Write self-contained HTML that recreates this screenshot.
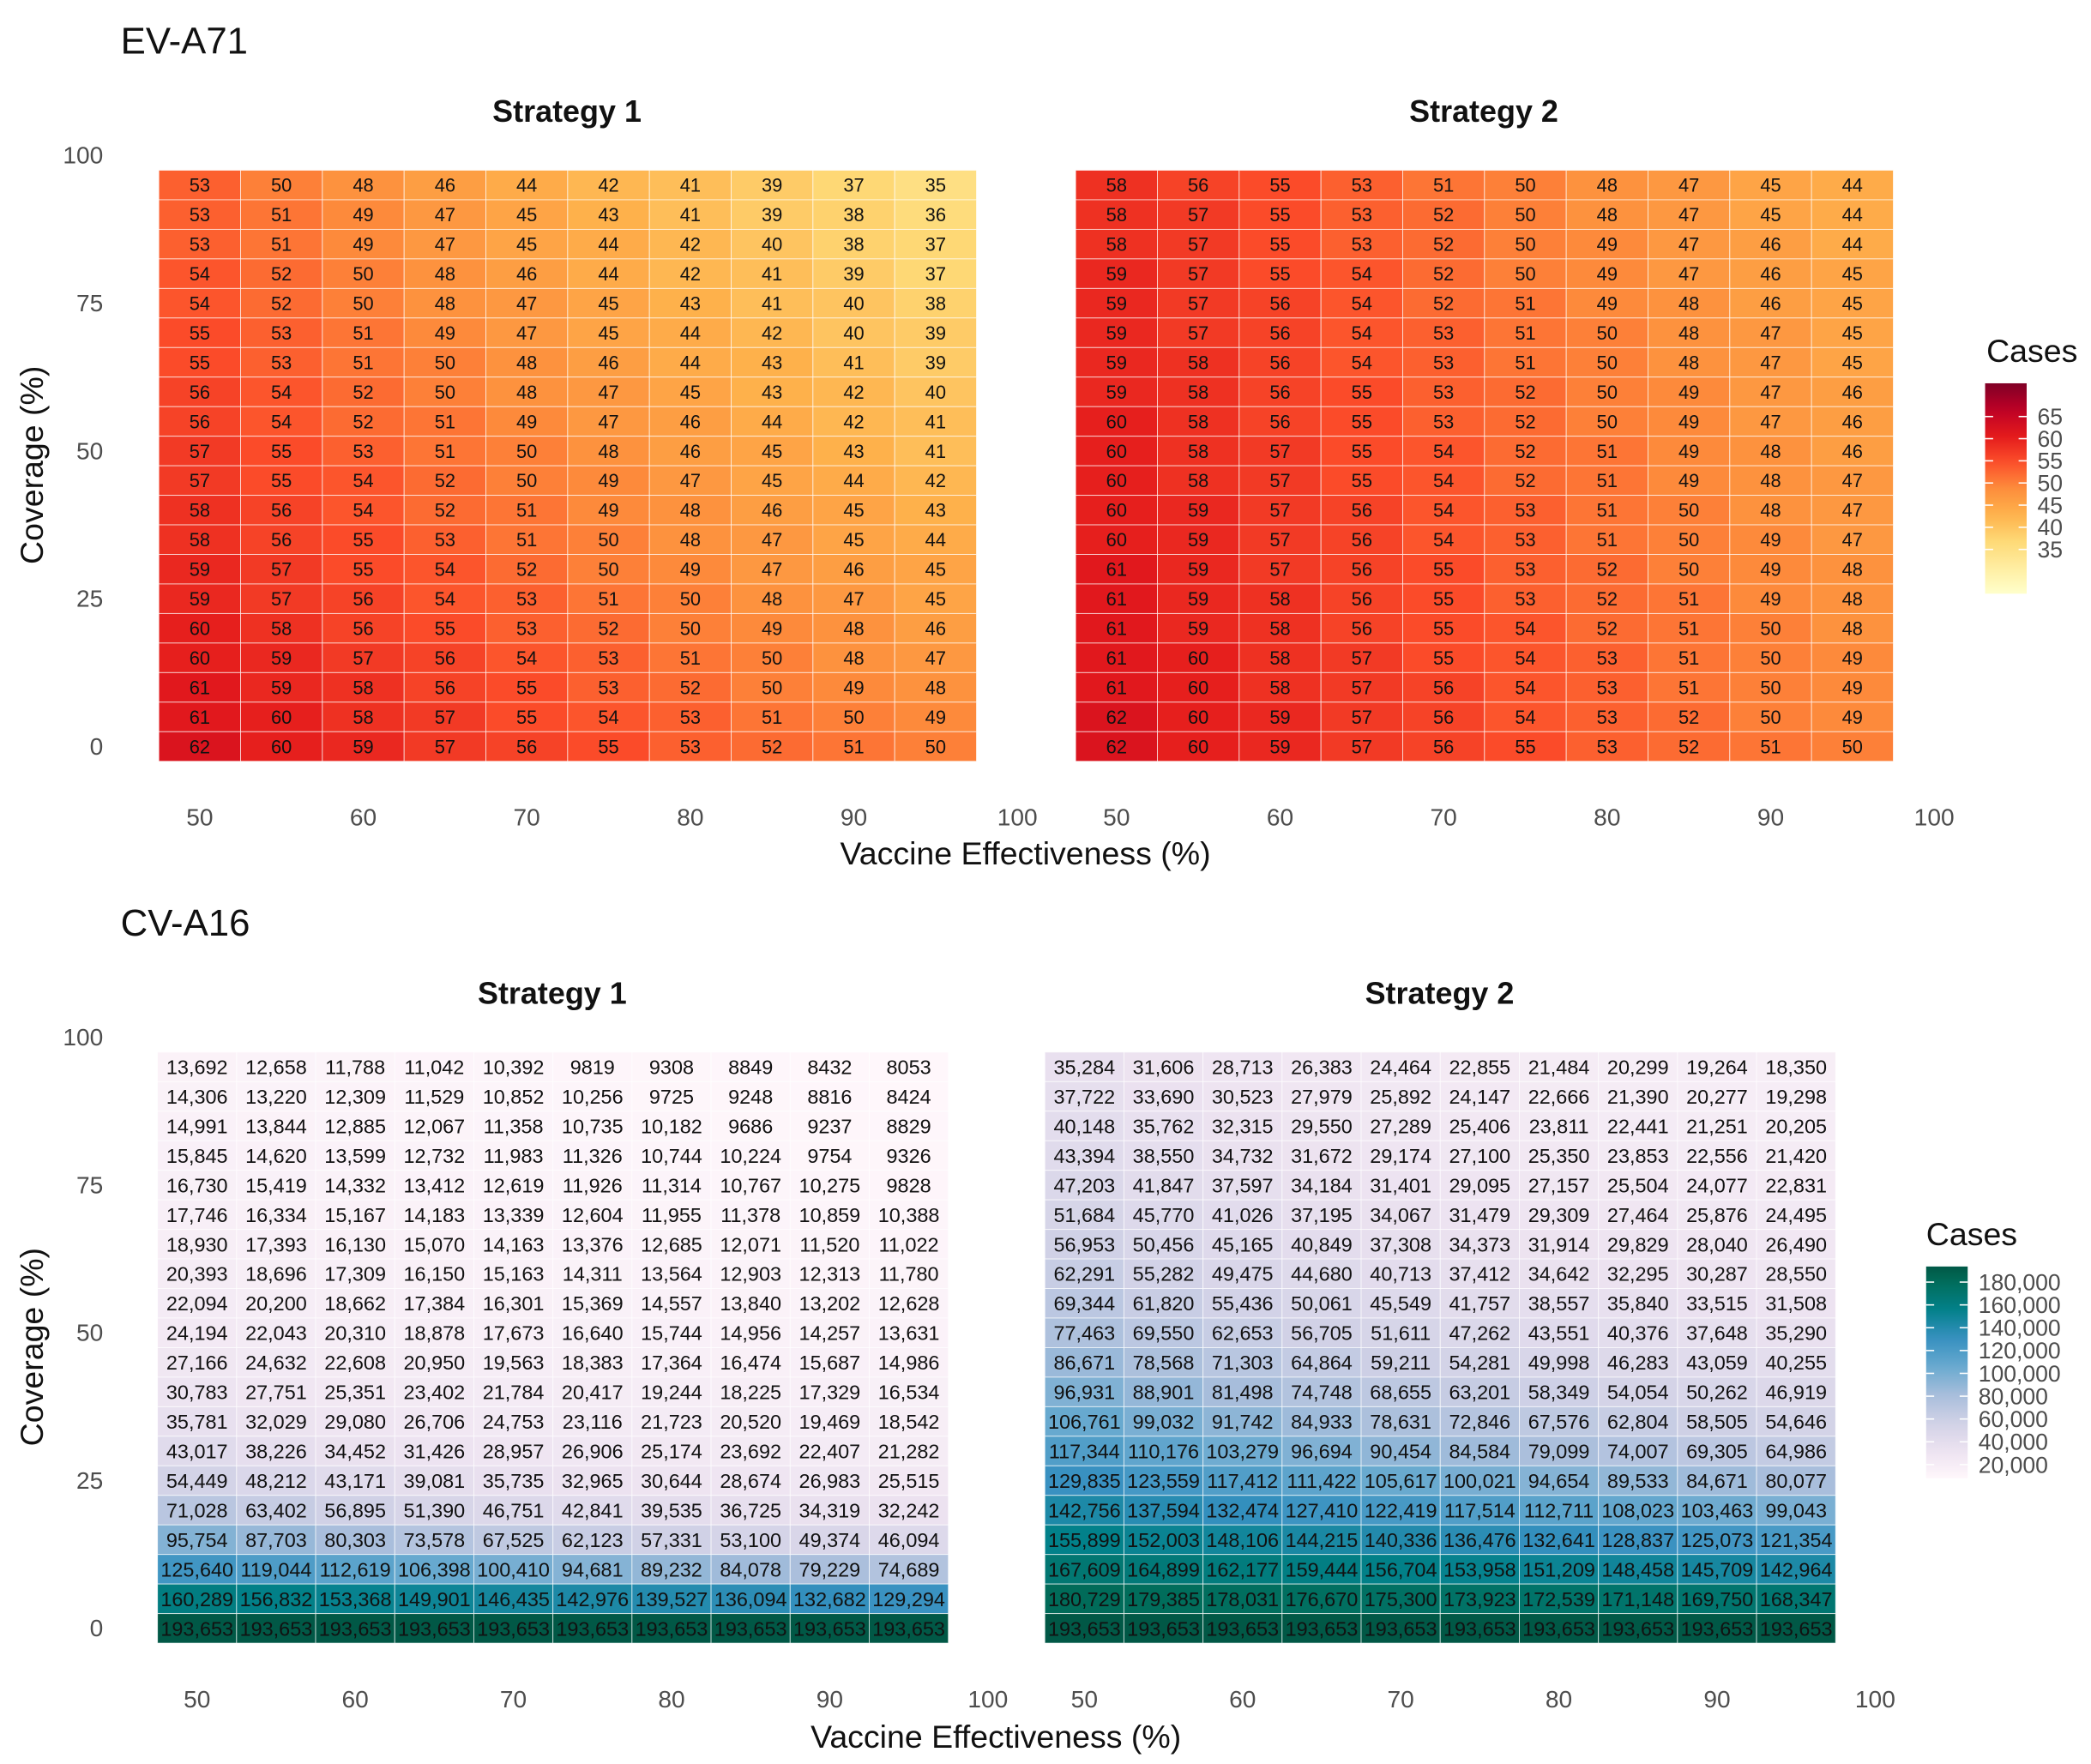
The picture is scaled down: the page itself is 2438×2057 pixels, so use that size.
<!DOCTYPE html>
<html><head><meta charset="utf-8"><style>
html,body{margin:0;padding:0;background:#fff}
svg{display:block;font-family:"Liberation Sans",sans-serif}
</style></head><body>
<svg id="c" width="2438" height="2057" viewBox="0 0 1560 1316.2" xmlns="http://www.w3.org/2000/svg">
<defs>
<linearGradient id="gA" x1="0" y1="1" x2="0" y2="0"></linearGradient>
<linearGradient id="gB" x1="0" y1="1" x2="0" y2="0"></linearGradient>
</defs>
<g id="root"></g>
</svg>
<script>
const xCats=[50,55,60,65,70,75,80,85,90,95];
const yCats=[95,90,85,80,75,70,65,60,55,50,45,40,35,30,25,20,15,10,5,0];
const xTicks=[50,60,70,80,90,100];
const yTicks=[0,25,50,75,100];
const evS1=[
[53,50,48,46,44,42,41,39,37,35],[53,51,49,47,45,43,41,39,38,36],[53,51,49,47,45,44,42,40,38,37],[54,52,50,48,46,44,42,41,39,37],
[54,52,50,48,47,45,43,41,40,38],[55,53,51,49,47,45,44,42,40,39],[55,53,51,50,48,46,44,43,41,39],[56,54,52,50,48,47,45,43,42,40],
[56,54,52,51,49,47,46,44,42,41],[57,55,53,51,50,48,46,45,43,41],[57,55,54,52,50,49,47,45,44,42],[58,56,54,52,51,49,48,46,45,43],
[58,56,55,53,51,50,48,47,45,44],[59,57,55,54,52,50,49,47,46,45],[59,57,56,54,53,51,50,48,47,45],[60,58,56,55,53,52,50,49,48,46],
[60,59,57,56,54,53,51,50,48,47],[61,59,58,56,55,53,52,50,49,48],[61,60,58,57,55,54,53,51,50,49],[62,60,59,57,56,55,53,52,51,50]];
const evS2=[
[58,56,55,53,51,50,48,47,45,44],[58,57,55,53,52,50,48,47,45,44],[58,57,55,53,52,50,49,47,46,44],[59,57,55,54,52,50,49,47,46,45],
[59,57,56,54,52,51,49,48,46,45],[59,57,56,54,53,51,50,48,47,45],[59,58,56,54,53,51,50,48,47,45],[59,58,56,55,53,52,50,49,47,46],
[60,58,56,55,53,52,50,49,47,46],[60,58,57,55,54,52,51,49,48,46],[60,58,57,55,54,52,51,49,48,47],[60,59,57,56,54,53,51,50,48,47],
[60,59,57,56,54,53,51,50,49,47],[61,59,57,56,55,53,52,50,49,48],[61,59,58,56,55,53,52,51,49,48],[61,59,58,56,55,54,52,51,50,48],
[61,60,58,57,55,54,53,51,50,49],[61,60,58,57,56,54,53,51,50,49],[62,60,59,57,56,54,53,52,50,49],[62,60,59,57,56,55,53,52,51,50]];
const cvS1=[
[13692,12658,11788,11042,10392,9819,9308,8849,8432,8053],
[14306,13220,12309,11529,10852,10256,9725,9248,8816,8424],
[14991,13844,12885,12067,11358,10735,10182,9686,9237,8829],
[15845,14620,13599,12732,11983,11326,10744,10224,9754,9326],
[16730,15419,14332,13412,12619,11926,11314,10767,10275,9828],
[17746,16334,15167,14183,13339,12604,11955,11378,10859,10388],
[18930,17393,16130,15070,14163,13376,12685,12071,11520,11022],
[20393,18696,17309,16150,15163,14311,13564,12903,12313,11780],
[22094,20200,18662,17384,16301,15369,14557,13840,13202,12628],
[24194,22043,20310,18878,17673,16640,15744,14956,14257,13631],
[27166,24632,22608,20950,19563,18383,17364,16474,15687,14986],
[30783,27751,25351,23402,21784,20417,19244,18225,17329,16534],
[35781,32029,29080,26706,24753,23116,21723,20520,19469,18542],
[43017,38226,34452,31426,28957,26906,25174,23692,22407,21282],
[54449,48212,43171,39081,35735,32965,30644,28674,26983,25515],
[71028,63402,56895,51390,46751,42841,39535,36725,34319,32242],
[95754,87703,80303,73578,67525,62123,57331,53100,49374,46094],
[125640,119044,112619,106398,100410,94681,89232,84078,79229,74689],
[160289,156832,153368,149901,146435,142976,139527,136094,132682,129294],
[193653,193653,193653,193653,193653,193653,193653,193653,193653,193653]];
const cvS2=[
[35284,31606,28713,26383,24464,22855,21484,20299,19264,18350],
[37722,33690,30523,27979,25892,24147,22666,21390,20277,19298],
[40148,35762,32315,29550,27289,25406,23811,22441,21251,20205],
[43394,38550,34732,31672,29174,27100,25350,23853,22556,21420],
[47203,41847,37597,34184,31401,29095,27157,25504,24077,22831],
[51684,45770,41026,37195,34067,31479,29309,27464,25876,24495],
[56953,50456,45165,40849,37308,34373,31914,29829,28040,26490],
[62291,55282,49475,44680,40713,37412,34642,32295,30287,28550],
[69344,61820,55436,50061,45549,41757,38557,35840,33515,31508],
[77463,69550,62653,56705,51611,47262,43551,40376,37648,35290],
[86671,78568,71303,64864,59211,54281,49998,46283,43059,40255],
[96931,88901,81498,74748,68655,63201,58349,54054,50262,46919],
[106761,99032,91742,84933,78631,72846,67576,62804,58505,54646],
[117344,110176,103279,96694,90454,84584,79099,74007,69305,64986],
[129835,123559,117412,111422,105617,100021,94654,89533,84671,80077],
[142756,137594,132474,127410,122419,117514,112711,108023,103463,99043],
[155899,152003,148106,144215,140336,136476,132641,128837,125073,121354],
[167609,164899,162177,159444,156704,153958,151209,148458,145709,142964],
[180729,179385,178031,176670,175300,173923,172539,171148,169750,168347],
[193653,193653,193653,193653,193653,193653,193653,193653,193653,193653]];
const evLegendTicks=[35,40,45,50,55,60,65];
const cvLegendTicks=[20000,40000,60000,80000,100000,120000,140000,160000,180000];

const NS="http://www.w3.org/2000/svg";
const root=document.getElementById('root');
function el(tag,attrs,parent,txt){const e=document.createElementNS(NS,tag);for(const k in attrs)e.setAttribute(k,attrs[k]);if(txt!==undefined)e.textContent=txt;(parent||root).appendChild(e);return e;}
function hex(h){return [1,3,5].map(i=>parseInt(h.substr(i,2),16));}
const YlOrRd=["#ffffcc","#ffeda0","#fed976","#feb24c","#fd8d3c","#fc4e2a","#e31a1c","#bd0026","#800026"].map(hex);
const PuBuGn=["#fff7fb","#ece2f0","#d0d1e6","#a6bddb","#67a9cf","#3690c0","#02818a","#016c59","#014636"].map(hex);
function ramp(p,t){t=Math.max(0,Math.min(1,t));const s=t*(p.length-1);const i=Math.min(p.length-2,Math.floor(s));const f=s-i;const c=p[i].map((v,k)=>Math.round(v+(p[i+1][k]-v)*f));return `rgb(${c.join(',')})`;}
function fmt(n){return n>=10000?n.toLocaleString('en-US'):String(n);}

function heatmap(name,data,x0,ux,y0,uy,colorFn,fs){
  const g=el('g',{},root);
  
  
  const xs=v=>x0+(v-50)*ux, ys=v=>y0-v*uy;
  data.forEach((row,ri)=>row.forEach((val,ci)=>{
    const xv=xCats[ci], yv=yCats[ri];
    const r=el('rect',{x:xs(xv-2.5),y:ys(yv+2.5),width:5*ux,height:5*uy,fill:colorFn(val),stroke:'#ffffff','stroke-width':0.6,'stroke-opacity':0.7},g);
    
    
    const t=el('text',{x:xs(xv),y:ys(yv)+fs*0.36,'font-size':fs,'text-anchor':'middle',fill:'#111'},g,fmt(val));
    
    
  }));
  xTicks.forEach(v=>{
    const t=el('text',{x:xs(v),y:y0+59,'font-size':18,'text-anchor':'middle',fill:'#4d4d4d'},root,String(v));
    
    
  });
}
function yAxis(y0,uy,cy){
  yTicks.forEach(v=>{
    const t=el('text',{x:77,y:y0-v*uy+6,'font-size':18,'text-anchor':'end',fill:'#4d4d4d'},root,String(v));
    
    
  });
  const t=el('text',{x:0,y:0,'font-size':24,'text-anchor':'middle',fill:'#111',transform:`translate(32,${cy}) rotate(-90)`},root,'Coverage (%)');
  
  
}
function txt(name,x,y,s,fs,opt){const t=el('text',Object.assign({x:x,y:y,'font-size':fs,fill:'#111'},opt||{}),root,s);return t;}

// EV-A71
const evMin=25,evMax=72.5;
const evCol=v=>ramp(YlOrRd,(v-evMin)/(evMax-evMin));
txt('panel-title-ev-a71',90,40,'EV-A71',28);
txt('strategy-1-title',423,91,'Strategy 1',23,{'font-weight':'bold','text-anchor':'middle'});
txt('strategy-2-title',1107,91,'Strategy 2',23,{'font-weight':'bold','text-anchor':'middle'});
heatmap('heatmap-ev-strategy-1',evS1,149,12.2,557,4.41,evCol,14);
heatmap('heatmap-ev-strategy-2',evS2,833,12.2,557,4.41,evCol,14);
yAxis(557,4.41,347);
txt('x-axis-title',765,645,'Vaccine Effectiveness (%)',24,{'text-anchor':'middle'});

// CV-A16
const cvMin=8053,cvMax=205000;
const cvCol=v=>ramp(PuBuGn,(v-cvMin)/(cvMax-cvMin));
txt('panel-title-cv-a16',90,698,'CV-A16',28);
txt('strategy-1-title',412,749,'Strategy 1',23,{'font-weight':'bold','text-anchor':'middle'});
txt('strategy-2-title',1074,749,'Strategy 2',23,{'font-weight':'bold','text-anchor':'middle'});
heatmap('heatmap-cv-strategy-1',cvS1,147,11.8,1215,4.41,cvCol,15);
heatmap('heatmap-cv-strategy-2',cvS2,809,11.8,1215,4.41,cvCol,15);
yAxis(1215,4.41,1005);
txt('x-axis-title',743,1304,'Vaccine Effectiveness (%)',24,{'text-anchor':'middle'});

// Legends
function legend(gid,pal,x,top,bot,vmin,vmax,ticks,yOf,title,tx,ty,lx,t0,t1){
  const g=document.getElementById(gid);
  for(let i=0;i<=20;i++){el('stop',{offset:(i/20),'stop-color':ramp(pal,t0+(t1-t0)*i/20)},g);}
  txt('legend-title',tx,ty,title,24);
  const r=el('rect',{x:x,y:top,width:31,height:bot-top,fill:`url(#${gid})`});
  
  
  ticks.forEach(v=>{
    const y=yOf(v);
    el('line',{x1:x,x2:x+6,y1:y,y2:y,stroke:'#fff','stroke-width':1});
    el('line',{x1:x+25,x2:x+31,y1:y,y2:y,stroke:'#fff','stroke-width':1});
    txt('legend-tick-label',lx,y+6,fmt(v),17,{fill:'#4d4d4d'});
  });
}
legend('gA',YlOrRd,1481,286,443,evMin,evMax,evLegendTicks,v=>443-(v-evMin)/(evMax-evMin)*157,'Cases',1482,270,1520,0,1);
legend('gB',PuBuGn,1437,945,1103,8053,193653,cvLegendTicks,v=>1103-(v-8053)/(193653-8053)*158,'Cases',1437,929,1476,0,(193653-cvMin)/(cvMax-cvMin));
</script>
</body></html>
